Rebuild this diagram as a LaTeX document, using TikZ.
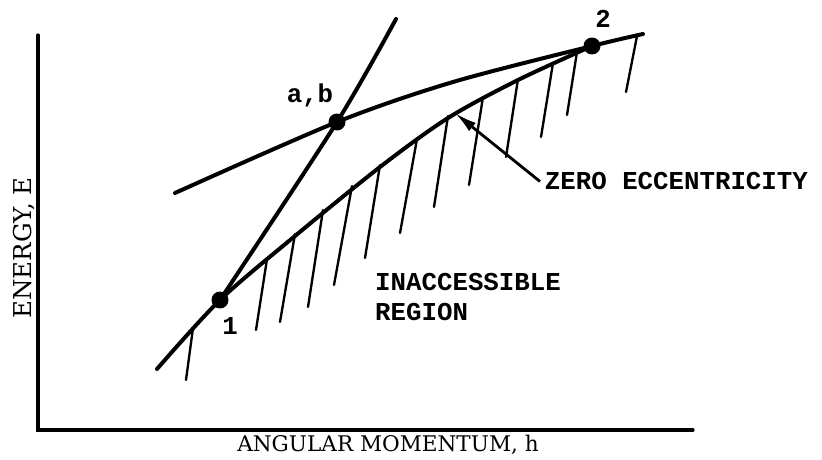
\documentclass[tikz,border=0pt]{standalone}
\usepackage{fontspec}
\setmainfont{DejaVu Serif}
\newfontfamily\typewr{Liberation Mono}
\usetikzlibrary{arrows.meta}

\tikzset{
    curve/.style={line width=3.4pt, line cap=round, line join=round},
    hatch/.style={line width=2pt, line cap=round},
    axis/.style={line width=2.8pt, line cap=round, line join=miter},
    pointer/.style={line width=2.4pt, -{Latex[length=19pt, width=9pt]}},
    dot/.style={circle, fill=black, inner sep=0pt, minimum size=14.5pt},
    tlabel/.style={font=\typewr\bfseries\fontsize{22}{28}\selectfont, inner sep=0pt},
    alabel/.style={font=\fontsize{18.4}{22}\selectfont, inner sep=0pt}
}

\begin{document}
\begin{tikzpicture}[x=0.03cm, y=-0.03cm]
    \useasboundingbox (0,0) rectangle (822,460);

    % Axes
    \coordinate (ytop) at (38,35);
    \coordinate (orig) at (38,430);
    \coordinate (xend) at (693,430);
    \draw[axis] (ytop) -- (orig) -- (xend);

    % Points 1, a,b and 2
    \coordinate (one) at (220,300);
    \coordinate (ab) at (337,122);
    \coordinate (two) at (592,46);

    % Hatching of the inaccessible region (drawn first, tucked under the curve)
    \foreach \xa/\ya/\xb/\yb in {193/328/186/380, 267/259/256/330, 295/234/280/322,
            323/210/308/307, 352/186/334/285, 380/165/365/258, 417/139/400/233,
            448/116/434/207, 483/97/469/185, 518/79/506/157, 553/63/541/137,
            577/52/567/115, 637/36/626/92} {
        \draw[hatch] (\xa,\ya) -- (\xb,\yb);
    }

    % Zero eccentricity boundary
    \draw[curve] plot[smooth] coordinates {(157,369) (one) (295,236) (380,167) (448,118) (518,80) (two)};
    % Shallow curve through a,b and 2
    \draw[curve] plot[smooth] coordinates {(175,193) (ab) (453,82) (two) (643,34)};
    % Steep curve through 1 and a,b
    \draw[curve] plot[smooth] coordinates {(one) (ab) (396,19)};

    \node[dot] (n1) at (one) {};
    \node[dot] (nab) at (ab) {};
    \node[dot] (n2) at (two) {};

    % Labels
    \node[tlabel, anchor=base] (l1) at (230,334) {1};
    \node[tlabel, anchor=base] (lab) at (310,103) {a,b};
    \node[tlabel, anchor=base] (l2) at (603,28) {2};
    \node[tlabel, anchor=base west] (inacc) at (375,290) {INACCESSIBLE};
    \node[tlabel, anchor=base west] (region) at (375,320) {REGION};
    \node[tlabel, anchor=base west, inner xsep=4pt] (zero) at (540,190) {ZERO ECCENTRICITY};
    \coordinate (tip) at (455,113);
    \draw[pointer] (zero.west) -- (tip);

    % Axis labels
    \node[alabel, anchor=base] (xlab) at (388,451) {ANGULAR MOMENTUM, h};
    \node[alabel, font=\fontsize{21}{24}\selectfont, rotate=90] (ylab) at (24,248) {ENERGY, E};
\end{tikzpicture}
\end{document}
